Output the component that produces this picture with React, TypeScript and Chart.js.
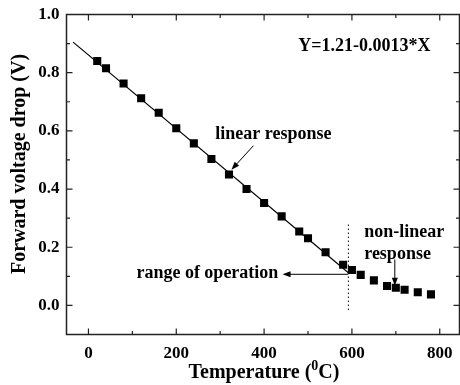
import React, { useEffect, useRef } from "react";
import { Chart, registerables } from "chart.js";

Chart.register(...registerables);

// ---- data ----
const tempC = [20, 40, 80, 120, 160, 200, 240, 280, 320, 360, 400, 440, 480, 500, 540, 580, 600, 620, 650, 680, 700, 720, 750, 780];
const voltage = [0.840, 0.815, 0.763, 0.712, 0.662, 0.609, 0.557, 0.503, 0.450, 0.400, 0.352, 0.306, 0.254, 0.231, 0.183, 0.140, 0.122, 0.105, 0.086, 0.067, 0.061, 0.054, 0.045, 0.038];
const fitX = [-35, 592];
const fitY = [0.905, 0.112];
const xTicks = [0, 200, 400, 600, 800];
const xMinorTicks = [100, 300, 500, 700];
const yTicks = [0.0, 0.2, 0.4, 0.6, 0.8, 1.0];
const yMinorTicks = [-0.1, 0.1, 0.3, 0.5, 0.7, 0.9];

const FONT = "'Liberation Serif', 'Times New Roman', serif";

const framePlugin = {
  id: "framePlugin",
  afterDraw(chart: any) {
    const { ctx, chartArea: a, scales } = chart;
    const xs = scales.x;
    const ys = scales.y;
    const X = (v: number) => xs.getPixelForValue(v);
    const Y = (v: number) => ys.getPixelForValue(v);
    ctx.save();
    // frame
    ctx.strokeStyle = "#222";
    ctx.lineWidth = 1.5;
    ctx.strokeRect(a.left, a.top, a.right - a.left, a.bottom - a.top);
    // ticks (inward)
    ctx.lineWidth = 1.2;
    ctx.beginPath();
    const tx = (v: number, len: number) => {
      const p = X(v);
      ctx.moveTo(p, a.bottom);
      ctx.lineTo(p, a.bottom - len);
      ctx.moveTo(p, a.top);
      ctx.lineTo(p, a.top + len);
    };
    const ty = (v: number, len: number) => {
      const p = Y(v);
      ctx.moveTo(a.left, p);
      ctx.lineTo(a.left + len, p);
      ctx.moveTo(a.right, p);
      ctx.lineTo(a.right - len, p);
    };
    xTicks.forEach((v) => tx(v, 6));
    xMinorTicks.forEach((v) => tx(v, 3.5));
    yTicks.forEach((v) => ty(v, 6));
    yMinorTicks.forEach((v) => ty(v, 3.5));
    ctx.stroke();

    // dotted vertical line
    ctx.strokeStyle = "#000";
    ctx.lineWidth = 1;
    ctx.setLineDash([1.5, 2.5]);
    ctx.beginPath();
    ctx.moveTo(X(592), Y(0.278));
    ctx.lineTo(X(592), Y(-0.023));
    ctx.stroke();
    ctx.setLineDash([]);

    // arrows
    const arrow = (x1: number, y1: number, x2: number, y2: number) => {
      const px1 = X(x1), py1 = Y(y1), px2 = X(x2), py2 = Y(y2);
      const ang = Math.atan2(py2 - py1, px2 - px1);
      const L = 8, W = 3;
      ctx.beginPath();
      ctx.moveTo(px1, py1);
      ctx.lineTo(px2 - Math.cos(ang) * L * 0.8, py2 - Math.sin(ang) * L * 0.8);
      ctx.stroke();
      ctx.beginPath();
      ctx.moveTo(px2, py2);
      ctx.lineTo(px2 - Math.cos(ang) * L - Math.sin(ang) * W, py2 - Math.sin(ang) * L + Math.cos(ang) * W);
      ctx.lineTo(px2 - Math.cos(ang) * L + Math.sin(ang) * W, py2 - Math.sin(ang) * L - Math.cos(ang) * W);
      ctx.closePath();
      ctx.fill();
    };
    ctx.fillStyle = "#000";
    ctx.lineWidth = 1;
    arrow(375.7, 0.549, 325.7, 0.4665);
    arrow(591.6, 0.107, 442, 0.107);
    arrow(697.7, 0.158, 697.7, 0.068);

    // annotation texts
    ctx.font = `bold 18px ${FONT}`;
    ctx.textBaseline = "middle";
    ctx.textAlign = "center";
    ctx.fillText("Y=1.21-0.0013*X", X(628.6), Y(0.892));
    ctx.fillText("linear response", X(421), Y(0.587));
    ctx.textAlign = "right";
    ctx.fillText("range of operation", X(432.5), Y(0.110));
    ctx.textAlign = "left";
    ctx.fillText("non-linear", X(628), Y(0.250));
    ctx.fillText("response", X(628), Y(0.175));

    // y title
    ctx.save();
    ctx.translate(25, 164);
    ctx.rotate(-Math.PI / 2);
    ctx.font = `bold 20px ${FONT}`;
    ctx.textAlign = "center";
    ctx.textBaseline = "alphabetic";
    ctx.fillText("Forward voltage drop (V)", 0, 0);
    ctx.restore();

    // x title with superscript
    ctx.textBaseline = "alphabetic";
    ctx.textAlign = "left";
    const base = 378;
    const p1 = "Temperature (";
    const sup = "0";
    const p2 = "C)";
    ctx.font = `bold 20px ${FONT}`;
    const w1 = ctx.measureText(p1).width;
    const w3 = ctx.measureText(p2).width;
    ctx.font = `bold 14px ${FONT}`;
    const w2 = ctx.measureText(sup).width;
    const total = w1 + w2 + w3;
    let x0 = 264 - total / 2;
    ctx.font = `bold 20px ${FONT}`;
    ctx.fillText(p1, x0, base);
    ctx.font = `bold 14px ${FONT}`;
    ctx.fillText(sup, x0 + w1, base - 8);
    ctx.font = `bold 20px ${FONT}`;
    ctx.fillText(p2, x0 + w1 + w2, base);
    ctx.restore();
  },
};

export default function App() {
  const ref = useRef<HTMLCanvasElement>(null);
  useEffect(() => {
    if (!ref.current) return;
    const chart = new Chart(ref.current, {
      type: "scatter",
      data: {
        datasets: [
          {
            label: "fit",
            data: fitX.map((x, i) => ({ x, y: fitY[i] })),
            showLine: true,
            borderColor: "#000",
            borderWidth: 1.2,
            pointRadius: 0,
            fill: false,
          },
          {
            label: "measured",
            data: tempC.map((x, i) => ({ x, y: voltage[i] })),
            pointStyle: "rect",
            pointRadius: 5.7,
            backgroundColor: "#000",
            borderColor: "#000",
            borderWidth: 0,
            showLine: false,
          },
        ],
      },
      options: {
        responsive: false,
        animation: false,
        layout: { autoPadding: false, padding: { left: 0, right: 0.5, top: 14.5, bottom: 0 } },
        plugins: { legend: { display: false }, tooltip: { enabled: false } },
        scales: {
          x: {
            type: "linear",
            min: -50,
            max: 845,
            grid: { display: false, drawTicks: false },
            border: { display: false },
            ticks: { color: "#000", padding: 9, font: { family: FONT, size: 17, weight: "bold" } },
            afterBuildTicks: (s: any) => {
              s.ticks = xTicks.map((v) => ({ value: v }));
            },
            afterFit: (s: any) => {
              s.height = 50.5;
              s.paddingLeft = 0;
              s.paddingRight = 0;
            },
          },
          y: {
            type: "linear",
            min: -0.1,
            max: 1.0,
            grid: { display: false, drawTicks: false },
            border: { display: false },
            ticks: {
              color: "#000",
              padding: 7,
              font: { family: FONT, size: 17, weight: "bold" },
              callback: (v: any) => Number(v).toFixed(1),
            },
            afterBuildTicks: (s: any) => {
              s.ticks = yTicks.map((v) => ({ value: v }));
            },
            afterFit: (s: any) => {
              s.width = 66.5;
              s.paddingTop = 0;
              s.paddingBottom = 0;
            },
          },
        },
      } as any,
      plugins: [framePlugin],
    });
    return () => chart.destroy();
  }, []);
  return (
    <div style={{ position: "fixed", left: 0, top: 0, width: 460, height: 385, background: "#fff" }}>
      <canvas ref={ref} width={460} height={385} style={{ display: "block" }} />
    </div>
  );
}
